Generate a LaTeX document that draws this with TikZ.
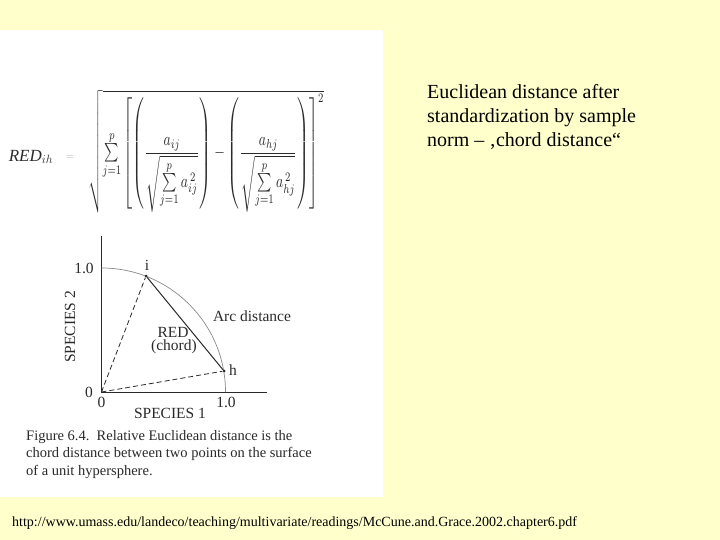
\documentclass[tikz,border=0pt]{standalone}
\usepackage{fontspec}
\setmainfont{Liberation Serif}
\usepackage{amsmath}
\definecolor{slidebg}{HTML}{FFFFCC}
\definecolor{ink}{HTML}{2A2A2A}
\definecolor{arcgray}{HTML}{8A8A8A}
\begin{document}
\begin{tikzpicture}[x=1pt,y=-1pt,
  figtext/.style={text=ink,font=\fontsize{15.5}{17}\selectfont,inner sep=0pt},
  axisline/.style={draw=ink,line width=0.9pt},
  dashline/.style={draw=ink,dashed,dash pattern=on 5pt off 3pt,line width=0.8pt},
  chordline/.style={draw=ink,line width=1pt},
  pointdot/.style={circle,fill=ink,inner sep=0pt,minimum size=3pt}]
\useasboundingbox (0,0) rectangle (720,540);
\fill[slidebg] (0,0) rectangle (720,540);
\fill[white] (0,30) rectangle (383,497);
% formula
\node[figtext,font=\itshape\fontsize{17}{19}\selectfont] (redih) at (31,157) {RED$_{ih}$};
\node[text=ink!40,inner sep=0pt] (eq) at (70,158) {$=$};
\node[text=ink,inner sep=0pt,anchor=north west] (formula) at (88,90)
 {\resizebox*{236pt}{123pt}{$\sqrt{\sum\limits_{j=1}^{p}\left[\left(\dfrac{a_{ij}}{\sqrt{\sum\limits_{j=1}^{p} a_{ij}^{\,2}}}\right)-\left(\dfrac{a_{hj}}{\sqrt{\sum\limits_{j=1}^{p} a_{hj}^{\,2}}}\right)\right]^{2}}$}};
% axes
\coordinate (O) at (101.5,392);
\coordinate (ytop) at (101.5,236);
\coordinate (xend) at (267,392);
\draw[axisline] (ytop) -- (O) -- (xend);
\draw[arcgray,line width=0.7pt] (101.5,268) arc[start angle=-90,end angle=0,radius=124];
\node[pointdot] (i) at (146,276) {};
\node[pointdot] (h) at (224,371) {};
\draw[dashline] (O) -- (i);
\draw[dashline] (O) -- (h);
\draw[chordline] (i) -- (h);
% labels
\node[figtext] (y1) at (84,268) {1.0};
\node[figtext] (y0) at (89,392) {0};
\node[figtext] (x0) at (101.5,402) {0};
\node[figtext] (x1) at (226,402) {1.0};
\node[figtext] (sp1) at (170,413) {SPECIES 1};
\node[figtext,rotate=90] (sp2) at (70,327) {SPECIES 2};
\node[figtext] (il) at (147,265) {i};
\node[figtext] (hl) at (233,370) {h};
\node[figtext] (arcl) at (252,316) {Arc distance};
\node[figtext] (redl) at (173,332) {RED};
\node[figtext] (chl) at (174,347) {(chord)};
% caption
\node[figtext,anchor=north west,align=left,font=\fontsize{14.5}{17.5}\selectfont] (cap) at (26,430)
 {Figure 6.4.\ \ Relative Euclidean distance is the\\chord distance between two points on the surface\\of a unit hypersphere.};
% right text
\node[anchor=north west,align=left,inner sep=0pt,font=\fontsize{20}{24}\selectfont] (title) at (427,84)
 {Euclidean distance after\\standardization by sample\\norm -- ‚chord distance“};
% url
\node[anchor=west,inner sep=0pt,font=\fontsize{14}{16}\selectfont] (url) at (12,523)
 {http://www.umass.edu/landeco/teaching/multivariate/readings/McCune.and.Grace.2002.chapter6.pdf};
\end{tikzpicture}
\end{document}
